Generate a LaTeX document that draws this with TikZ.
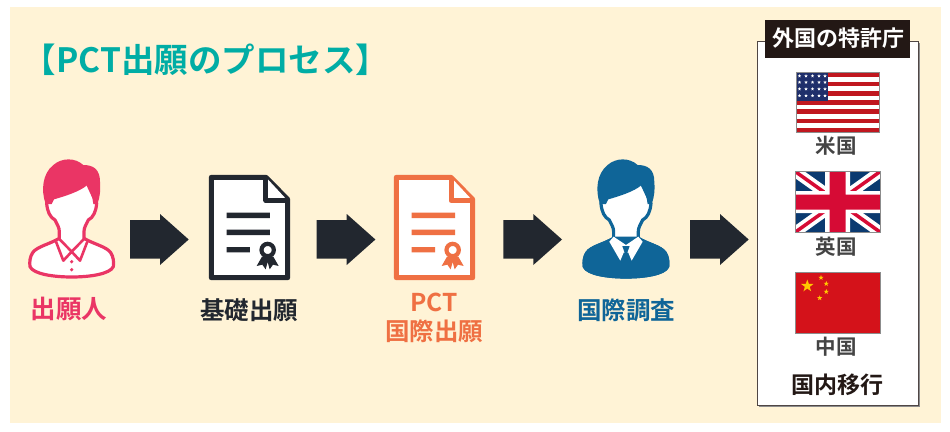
\documentclass[tikz,border=0pt]{standalone}
\usepackage{fontspec}
\setmainfont{Noto Sans CJK JP}[BoldFont={Noto Sans CJK JP Bold}]
\usetikzlibrary{shapes.geometric}
\definecolor{cream}{HTML}{FFF3D6}
\definecolor{pinkc}{HTML}{EA3565}
\definecolor{orangec}{HTML}{EF7043}
\definecolor{darkc}{HTML}{22272F}
\definecolor{bluec}{HTML}{0F6598}
\definecolor{tealc}{HTML}{00ADA5}
\definecolor{blk}{HTML}{231815}
\definecolor{greyt}{HTML}{444444}
\definecolor{usred}{HTML}{C0171F}
\definecolor{usblue}{HTML}{1F2F6B}
\definecolor{ukblue}{HTML}{0B3A70}
\definecolor{ukred}{HTML}{D60B35}
\definecolor{cnred}{HTML}{D4121A}
\definecolor{cnyel}{HTML}{FFC800}
\tikzset{
  x=1pt,y=-1pt,
  lab/.style={font=\bfseries\fontsize{#1}{#1}\selectfont,inner sep=0pt,anchor=center},
  flagedge/.style={draw=black!45,line width=0.7pt},
  star5/.style={star,star points=5,star point ratio=2.5,inner sep=0pt,minimum size=#1,draw=none},
}
\newcommand{\headpath}{(140,190) .. controls (142,215) and (150,232) .. (165,240) .. controls (172,255) and (178,262) .. (178,275) -- (178,295) .. controls (150,312) and (110,320) .. (98,338) .. controls (90,350) and (88,365) .. (90,380) .. controls (100,402) and (160,411) .. (215,411) .. controls (270,411) and (330,402) .. (340,380) .. controls (342,365) and (340,350) .. (332,338) .. controls (320,320) and (280,312) .. (252,295) -- (252,275) .. controls (252,262) and (258,255) .. (265,240) .. controls (280,232) and (288,215) .. (290,190) -- (262,130) -- (162,130) -- cycle}
\newcommand{\hairpath}{(137,192) .. controls (122,150) and (128,100) .. (160,75) .. controls (185,53) and (225,52) .. (250,75) .. controls (280,75) and (300,88) .. (300,125) .. controls (302,150) and (300,172) .. (292,192) -- (280,192) .. controls (278,170) and (270,150) .. (262,135) .. controls (240,155) and (190,170) .. (162,178) -- (155,192) -- cycle}
\newcommand{\docicon}[3]{% x shift px, colour
  \begin{scope}[shift={(#1,140)},scale=1/3]
    \draw[line width=5pt,line join=round,fill=white,draw=#2] (634,112) -- (798,112) -- (863,178) -- (863,413) -- (634,413) -- cycle;
    \draw[line width=5pt,line join=round,fill=#3,draw=#2] (798,112) -- (798,182) -- (863,182);
    \fill[#2] (680,218) rectangle (810,234) (680,269) rectangle (810,285) (680,321) rectangle (750,337);
    \fill[#2] (786,350) -- (770,378) -- (787,374) -- (797,388) -- (803,366) -- (809,388) -- (819,374) -- (836,378) -- (820,350) -- cycle;
    \draw[#2,fill=white,line width=4.2pt] (803,330) circle (18.5);
  \end{scope}}
\begin{document}
\begin{tikzpicture}
\useasboundingbox (0,0) rectangle (950,431);
\fill[white] (0,0) rectangle (950,431);
\fill[cream] (9.5,7) rectangle (941,423);
\node[lab=33.5,text=tealc] (title) at (206,59.5) {【PCT出願のプロセス】};

% pink person
\begin{scope}[shift={(0,140)},scale=1/3]
  \draw[draw=pinkc,fill=white,line width=3.2pt,line join=round] \headpath;
  \fill[pinkc] \hairpath;
  \draw[pinkc,line width=2.6pt,line join=round] (168,305) -- (190,362) -- (215,335) -- (240,362) -- (262,305);
  \draw[pinkc,line width=2.6pt] (178,297) -- (215,335) -- (252,297);
  \fill[pinkc] (215,365) circle (5.5) (215,389) circle (5.5);
\end{scope}

% blue person
\begin{scope}[shift={(554.3,140)},scale=1/3]
  \draw[draw=bluec,fill=white,line width=3.2pt,line join=round] \headpath;
  \filldraw[bluec,line width=3.2pt,line join=round] (178,295) .. controls (150,312) and (110,320) .. (98,338) .. controls (90,350) and (88,365) .. (90,380) .. controls (100,402) and (160,411) .. (215,411) .. controls (270,411) and (330,402) .. (340,380) .. controls (342,365) and (340,350) .. (332,338) .. controls (320,320) and (280,312) .. (252,295) -- cycle;
  \fill[white] (165,305) -- (178,290) -- (215,315) -- (252,290) -- (265,305) -- (232,362) -- (222,338) -- (208,338) -- (198,362) -- cycle;
  \fill[bluec] (204,318) -- (226,318) -- (219,338) -- (224,368) -- (206,368) -- (211,338) -- cycle;
  \fill[bluec] \hairpath;
\end{scope}

\docicon{0}{darkc}{white}
\docicon{185}{orangec}{white}

% arrows
\foreach \a/\dx in {a1/0,a2/186.7,a3/373.3,a4/560}{
  \fill[darkc,shift={(\dx,0)}] (130,220) -- (160,220) -- (160,214) -- (188.7,239.5) -- (160,265) -- (160,258.7) -- (130,258.7) -- cycle;
}

% labels
\node[lab=25.5,text=pinkc] (l1) at (69,309) {出願人};
\node[lab=24.5,text=darkc] (l2) at (249,310) {基礎出願};
\node[lab=24.5,text=orangec] (l3a) at (434,302) {PCT};
\node[lab=24.5,text=orangec] (l3b) at (434,331) {国際出願};
\node[lab=24.5,text=bluec] (l4) at (626,310) {国際調査};

% panel
\fill[black!45] (758.5,42.5) rectangle (919.5,407);
\draw[draw=blk!80,fill=white,line width=1pt] (757.5,41.5) rectangle (918,405.5);
\fill[blk] (765,20) rectangle (910,58);
\node[lab=22,text=white] (pt) at (838,38.5) {外国の特許庁};

% US flag
\begin{scope}
  \clip (796,72.5) rectangle (879.5,132.5);
  \fill[white] (796,72.5) rectangle (879.5,132.5);
  \foreach \i in {0,2,...,12}{\fill[usred] (796,72.5+\i*60/13) rectangle (879.5,72.5+\i*60/13+60/13);}
  \fill[usblue] (796,72.5) rectangle (828,100.8);
  \foreach \sy in {76,82.3,89,95.7}{\foreach \sx in {799.5,806,812.5,819,825}{
    \node[star5=3.6pt,fill=white] at (\sx,\sy) {};}}
\end{scope}
\draw[flagedge] (796,72.5) rectangle (879.5,132.5);

% UK flag
\begin{scope}
  \clip (795.5,171.7) rectangle (880,232);
  \fill[ukblue] (795.5,171.7) rectangle (880,232);
  \draw[white,line width=11pt] (795.5,171.7) -- (880,232) (795.5,232) -- (880,171.7);
  \draw[ukred,line width=3.5pt] (795.5,171.7) -- (837.7,201.8) (880,232) -- (837.7,201.8) (795.5,232) -- (837.7,201.8) (880,171.7) -- (837.7,201.8);
  \fill[white] (795.5,191) rectangle (880,213) (825,171.7) rectangle (850,232);
  \fill[ukred] (795.5,194.5) rectangle (880,209.5) (829.5,171.7) rectangle (845.5,232);
\end{scope}
\draw[flagedge] (795.5,171.7) rectangle (880,232);

% China flag
\fill[cnred] (795.7,272.7) rectangle (880,333.3);
\draw[flagedge] (795.7,272.7) rectangle (880,333.3);
\node[star5=13pt,fill=cnyel] at (807.3,286) {};
\foreach \sx/\sy in {821/277.7,826.3/283.7,826.3/291.7,819.7/298}{
  \node[star5=5.5pt,fill=cnyel] at (\sx,\sy) {};}

\node[lab=20.5,text=greyt] (us) at (836,146) {米国};
\node[lab=20.5,text=greyt] (uk) at (836,246.5) {英国};
\node[lab=20.5,text=greyt] (cn) at (836,347) {中国};
\node[lab=23,text=blk] (koku) at (837.5,384.5) {国内移行};
\end{tikzpicture}
\end{document}
